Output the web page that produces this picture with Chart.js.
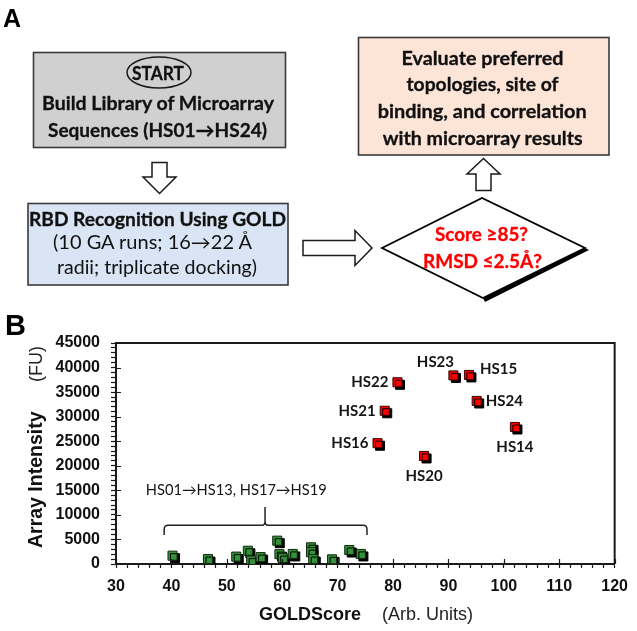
<!DOCTYPE html>
<html><head><meta charset="utf-8">
<script src="https://cdn.jsdelivr.net/npm/chart.js@4.4.0/dist/chart.umd.min.js"></script>
<style>
html,body{margin:0;padding:0;background:#fff;}
#wrap{position:relative;width:637px;height:631px;overflow:hidden;background:#fff;}
#c{position:absolute;left:0;top:0;}
#flow{position:absolute;left:0;top:0;pointer-events:none;}
#flow .cal{font-family:Lato,'Open Sans',sans-serif;}
#flow .ar{font-family:'Liberation Sans',Arial,sans-serif;font-weight:bold;}
</style></head><body>
<div id="wrap">
<canvas id="c" width="637" height="631"></canvas>
<svg id="flow" width="637" height="631" viewBox="0 0 637 631" xmlns="http://www.w3.org/2000/svg">
  <text class="ar" x="3" y="27" font-size="25" fill="#000">A</text>
  <text class="ar" x="5" y="335" font-size="29" fill="#000">B</text>

  <!-- Start box -->
  <rect x="33.5" y="52.5" width="252" height="95" fill="#d0d0d0" stroke="#3a3a3a" stroke-width="1.6"/>
  <ellipse cx="159" cy="72.5" rx="32" ry="15.5" fill="none" stroke="#1a1a1a" stroke-width="1.5"/>
  <g class="cal" font-weight="bold" fill="#111" stroke="#111" stroke-width="0.3" text-anchor="middle" dominant-baseline="central">
    <text x="158" y="72.5" font-size="18" textLength="52" lengthAdjust="spacingAndGlyphs">START</text>
    <text x="158" y="103" font-size="18.5" textLength="232" lengthAdjust="spacingAndGlyphs">Build Library of Microarray</text>
    <text x="157.5" y="130" font-size="18.5" textLength="219" lengthAdjust="spacingAndGlyphs">Sequences (HS01→HS24)</text>
  </g>

  <!-- down arrow -->
  <polygon points="152,162.5 167,162.5 167,177 176,177 159.5,193.5 143,177 152,177" fill="#fff" stroke="#1a1a1a" stroke-width="1.5"/>

  <!-- GOLD box -->
  <rect x="28" y="203.5" width="260" height="81.5" fill="#d9e5f4" stroke="#3a3a3a" stroke-width="1.6"/>
  <g class="cal" fill="#111" text-anchor="middle" dominant-baseline="central">
    <text x="157.5" y="218.5" font-size="18.5" font-weight="bold" stroke="#111" stroke-width="0.3" textLength="257" lengthAdjust="spacingAndGlyphs">RBD Recognition Using GOLD</text>
    <text x="152.5" y="242" font-size="18.5" textLength="199" lengthAdjust="spacingAndGlyphs">(10 GA runs; 16→22 Å</text>
    <text x="157" y="267" font-size="18.5" textLength="200" lengthAdjust="spacingAndGlyphs">radii; triplicate docking)</text>
  </g>

  <!-- right arrow -->
  <polygon points="303,240.5 355,240.5 355,230.5 372,248 355,265.5 355,255.5 303,255.5" fill="#fff" stroke="#1a1a1a" stroke-width="1.5"/>

  <!-- decision diamond -->
  <polygon points="585,248 483,298 485,302 589,250" fill="#000"/>
  <polygon points="382,248 482,198 585,248 483,298" fill="#fff" stroke="#000" stroke-width="1.8"/>
  <g class="cal" font-weight="bold" fill="#ff0000" stroke="#ff0000" stroke-width="0.3" text-anchor="middle" dominant-baseline="central">
    <text x="481.5" y="233" font-size="19" textLength="93" lengthAdjust="spacingAndGlyphs">Score ≥85?</text>
    <text x="482.5" y="260" font-size="19" textLength="119" lengthAdjust="spacingAndGlyphs">RMSD ≤2.5Å?</text>
  </g>

  <!-- up arrow -->
  <polygon points="483.5,158.5 500,174 491,174 491,190.5 476,190.5 476,174 467,174" fill="#fff" stroke="#1a1a1a" stroke-width="1.5"/>

  <!-- evaluate box -->
  <rect x="358.5" y="37.5" width="250.5" height="117.5" fill="#fce4d6" stroke="#3a3a3a" stroke-width="1.6"/>
  <g class="cal" font-weight="bold" fill="#111" stroke="#111" stroke-width="0.3" text-anchor="middle" dominant-baseline="central">
    <text x="482.5" y="57.5" font-size="18.5" textLength="162" lengthAdjust="spacingAndGlyphs">Evaluate preferred</text>
    <text x="482.5" y="84" font-size="18.5" textLength="152" lengthAdjust="spacingAndGlyphs">topologies, site of</text>
    <text x="482.2" y="111" font-size="18.5" textLength="209" lengthAdjust="spacingAndGlyphs">binding, and correlation</text>
    <text x="482.7" y="137.5" font-size="18.5" textLength="200" lengthAdjust="spacingAndGlyphs">with microarray results</text>
  </g>
</svg>
</div>
<script>
// ---------- data ----------
const greenScore     = [40.2, 46.6, 51.7, 53.8, 54.4, 56.1, 59.1, 59.5, 60.1, 61.9, 65.2, 65.2, 65.6, 69.0, 72.1, 74.2];
const greenIntensity = [1700, 1000, 1500, 2700,  700, 1400, 4750, 2000, 1200, 2050, 3400, 2400, 1000,  950, 2850, 2050];

const redNames     = ['HS14', 'HS15', 'HS16', 'HS20', 'HS21', 'HS22', 'HS23', 'HS24'];
const redScore     = [102.0,  93.7,   77.2,   85.6,   78.5,   80.8,   90.9,   95.1];
const redIntensity = [27900,  38500,  24600,  22000,  31200,  37000,  38400,  33200];

const xMajorTicks = [30, 40, 50, 60, 70, 80, 90, 100, 110, 120];
const yMajorTicks = [0, 5000, 10000, 15000, 20000, 25000, 30000, 35000, 40000, 45000];

const groupLabel = 'HS01→HS13, HS17→HS19';
const xTitleBold = 'GOLDScore', xTitleUnit = '(Arb. Units)';
const yTitleBold = 'Array Intensity', yTitleUnit = '(FU)';

// label placement words for red points (style, not data)
const redLabelPlacement = {HS14:'below', HS15:'rightUp', HS16:'left', HS20:'below', HS21:'left', HS22:'left', HS23:'aboveLeft', HS24:'right'};
// bracket annotation range (data units)
const bracketRange = [38.7, 75.3], bracketPeak = 56.9;

const ARIAL = "'Liberation Sans', Arial, sans-serif";
const CAL = "Lato, 'Open Sans', sans-serif";

const shadowPlugin = {
  id: 'shadow',
  beforeDatasetDraw(chart) {
    const ctx = chart.ctx;
    ctx.save();
    ctx.shadowColor = '#000';
    ctx.shadowOffsetX = 2.5;
    ctx.shadowOffsetY = 2.5;
    ctx.shadowBlur = 0;
  },
  afterDatasetDraw(chart) { chart.ctx.restore(); }
};

const decoPlugin = {
  id: 'deco',
  afterDraw(chart) {
    const ctx = chart.ctx, a = chart.chartArea;
    const xs = chart.scales.x, ys = chart.scales.y;
    ctx.save();
    // frame top/right
    ctx.strokeStyle = '#1a1a1a';
    ctx.lineWidth = 2;
    ctx.beginPath();
    ctx.moveTo(a.left, a.top); ctx.lineTo(a.right, a.top); ctx.lineTo(a.right, a.bottom);
    ctx.stroke();
    // inward major ticks
    ctx.lineWidth = 1.2;
    ctx.beginPath();
    xMajorTicks.forEach(v => { const p = Math.round(xs.getPixelForValue(v)) + 0.5; ctx.moveTo(p, a.bottom); ctx.lineTo(p, a.bottom - 5); });
    yMajorTicks.forEach(v => { const p = Math.round(ys.getPixelForValue(v)) + 0.5; ctx.moveTo(a.left, p); ctx.lineTo(a.left + 5, p); });
    ctx.stroke();

    // red point labels
    ctx.fillStyle = '#151515';
    ctx.font = 'bold 15px ' + CAL;
    redNames.forEach((n, i) => {
      const px = xs.getPixelForValue(redScore[i]), py = ys.getPixelForValue(redIntensity[i]);
      const pl = redLabelPlacement[n];
      ctx.textBaseline = 'middle';
      if (pl === 'left') { ctx.textAlign = 'right'; ctx.fillText(n, px - 9, py); }
      else if (pl === 'right') { ctx.textAlign = 'left'; ctx.fillText(n, px + 9, py); }
      else if (pl === 'rightUp') { ctx.textAlign = 'left'; ctx.fillText(n, px + 11, py - 6); }
      else if (pl === 'below') { ctx.textAlign = 'center'; ctx.fillText(n, px, py + 20); }
      else if (pl === 'aboveLeft') { ctx.textAlign = 'center'; ctx.fillText(n, px - 18, py - 13); }
    });

    // bracket
    const bx1 = xs.getPixelForValue(bracketRange[0]), bx2 = xs.getPixelForValue(bracketRange[1]);
    const bm = xs.getPixelForValue(bracketPeak);
    const yH = ys.getPixelForValue(7900), yE = ys.getPixelForValue(5900), yP = ys.getPixelForValue(11600);
    const r = 4;
    ctx.strokeStyle = '#222'; ctx.lineWidth = 1.5;
    ctx.beginPath();
    ctx.moveTo(bx1, yE);
    ctx.lineTo(bx1, yH + r);
    ctx.quadraticCurveTo(bx1, yH, bx1 + r, yH);
    ctx.lineTo(bm - 3, yH);
    ctx.quadraticCurveTo(bm, yH, bm, yH - 4);
    ctx.lineTo(bm, yP);
    ctx.moveTo(bm, yH - 4);
    ctx.quadraticCurveTo(bm, yH, bm + 3, yH);
    ctx.lineTo(bx2 - r, yH);
    ctx.quadraticCurveTo(bx2, yH, bx2, yH + r);
    ctx.lineTo(bx2, yE);
    ctx.stroke();

    // group label
    ctx.font = '14.5px ' + CAL;
    ctx.fillStyle = '#151515';
    const gw = ctx.measureText(groupLabel).width;
    const gx = xs.getPixelForValue(51.7), gy = ys.getPixelForValue(14900);
    ctx.save();
    ctx.translate(gx, gy);
    ctx.scale(181 / gw, 1);
    ctx.textAlign = 'center'; ctx.textBaseline = 'middle';
    ctx.fillText(groupLabel, 0, 0);
    ctx.restore();

    // x title
    ctx.textBaseline = 'middle'; ctx.textAlign = 'left';
    ctx.fillStyle = '#111';
    ctx.font = 'bold 18px ' + ARIAL;
    ctx.fillText(xTitleBold, 259, a.bottom + 51);
    ctx.fillStyle = '#222';
    ctx.font = '18px ' + ARIAL;
    ctx.fillText(xTitleUnit, 382, a.bottom + 51);

    // y title
    ctx.save();
    ctx.translate(37, a.bottom - 16);
    ctx.rotate(-Math.PI / 2);
    ctx.textAlign = 'left'; ctx.textBaseline = 'middle';
    ctx.fillStyle = '#111';
    ctx.font = 'bold 19.5px ' + ARIAL;
    ctx.fillText(yTitleBold, 0, 0);
    ctx.fillStyle = '#222';
    ctx.font = '18px ' + ARIAL;
    ctx.fillText(yTitleUnit, 166, 0);
    ctx.restore();

    ctx.restore();
  }
};

const tickFont = {family: ARIAL, size: 16, weight: 'bold'};

new Chart(document.getElementById('c'), {
  type: 'scatter',
  data: {
    datasets: [
      {
        label: groupLabel,
        data: greenScore.map((x, i) => ({x: x, y: greenIntensity[i]})),
        backgroundColor: '#35913a',
        borderColor: '#0d2a0d',
        borderWidth: 1,
        pointStyle: 'rect',
        pointRadius: 6.4,
        pointHoverRadius: 6.4
      },
      {
        label: 'HS14–HS16, HS20–HS24',
        data: redScore.map((x, i) => ({x: x, y: redIntensity[i]})),
        backgroundColor: '#ff0000',
        borderColor: '#3a0000',
        borderWidth: 1,
        pointStyle: 'rect',
        pointRadius: 6.4,
        pointHoverRadius: 6.4
      }
    ]
  },
  options: {
    responsive: false,
    animation: false,
    events: [],
    layout: {padding: {top: 343, right: 16, left: 0, bottom: 0}},
    plugins: {legend: {display: false}, tooltip: {enabled: false}, title: {display: false}},
    scales: {
      x: {
        type: 'linear', position: 'bottom', min: 30, max: 120,
        ticks: {
          stepSize: 2, maxTicksLimit: 100, autoSkip: false, maxRotation: 0, minRotation: 0,
          font: tickFont, color: '#111', padding: 9,
          callback: v => xMajorTicks.includes(v) ? String(v) : ''
        },
        grid: {drawOnChartArea: false, drawTicks: true, tickLength: 4, tickColor: '#1a1a1a', tickWidth: 1.2},
        border: {display: true, color: '#1a1a1a', width: 2},
        afterFit: s => { s.height = 67; }
      },
      y: {
        type: 'linear', position: 'left', min: 0, max: 45000,
        ticks: {
          stepSize: 1000, maxTicksLimit: 100, autoSkip: false,
          font: tickFont, color: '#111', padding: 11,
          callback: v => yMajorTicks.includes(v) ? String(v) : ''
        },
        grid: {drawOnChartArea: false, drawTicks: true, tickLength: 5, tickColor: '#1a1a1a', tickWidth: 1.2},
        border: {display: true, color: '#1a1a1a', width: 2},
        afterFit: s => { s.width = 116; }
      }
    }
  },
  plugins: [shadowPlugin, decoPlugin]
});
</script>
</body></html>
